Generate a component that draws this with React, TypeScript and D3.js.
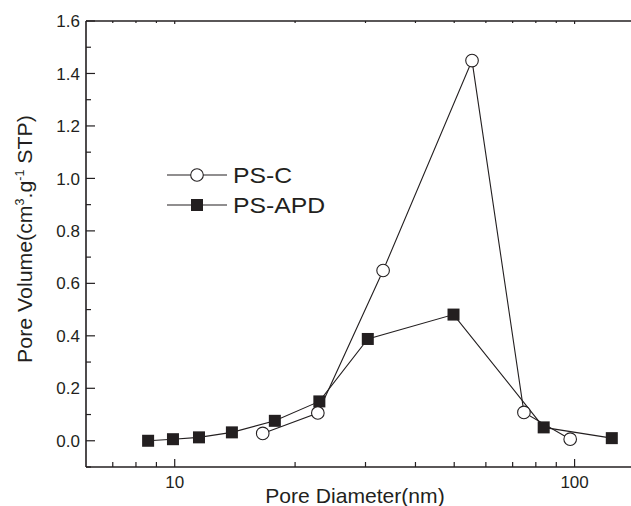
import React from "react";
import * as d3 from "d3";

const psCDiameter = [16.6, 22.8, 33.2, 55.4, 74.7, 97.5];
const psCVolume = [0.028, 0.106, 0.649, 1.449, 0.108, 0.006];
const psAPDDiameter = [8.58, 9.9, 11.5, 13.9, 17.8, 23.0, 30.4, 49.8, 83.7, 123.9];
const psAPDVolume = [0.0, 0.006, 0.013, 0.032, 0.076, 0.15, 0.388, 0.481, 0.051, 0.01];
const yTicks = [0.0, 0.2, 0.4, 0.6, 0.8, 1.0, 1.2, 1.4, 1.6];
const yMinorTicks = [-0.1, 0.1, 0.3, 0.5, 0.7, 0.9, 1.1, 1.3, 1.5];
const xTicks = [10, 100];
const xMinorTicks = [7, 8, 9, 20, 30, 40, 50, 60, 70, 80, 90];
const seriesNames = ["PS-C", "PS-APD"];

const W = 631;
const H = 506;
const left = 86;
const top = 21;
const bottom = 467;

export default function App() {
  const x = d3.scaleLog().domain([6, 150]).range([left, 645]);
  const y = d3.scaleLinear().domain([-0.1, 1.6]).range([bottom, top]);
  const line = d3
    .line<[number, number]>()
    .x((d) => x(d[0]))
    .y((d) => y(d[1]));
  const psC: [number, number][] = psCDiameter.map((d, i) => [d, psCVolume[i]]);
  const psA: [number, number][] = psAPDDiameter.map((d, i) => [d, psAPDVolume[i]]);
  const axisColor = "#231f20";
  const font = "'Liberation Sans', Arial, Helvetica, sans-serif";
  const fmt = d3.format(".1f");
  const sq = 12;

  return (
    <svg
      width={W}
      height={H}
      style={{ position: "absolute", left: 0, top: 0, background: "#fff" }}
      fontFamily={font}
    >
      <rect x={0} y={0} width={W} height={H} fill="#fff" />
      {/* axes lines */}
      <line x1={left} x2={W + 5} y1={top} y2={top} stroke={axisColor} strokeWidth={1.6} />
      <line x1={left} x2={W + 5} y1={bottom} y2={bottom} stroke={axisColor} strokeWidth={1.6} />
      <line x1={left} x2={left} y1={top} y2={bottom} stroke={axisColor} strokeWidth={1.6} />

      {/* y ticks */}
      {yTicks.map((t) => (
        <g key={"yt" + t}>
          <line x1={left} x2={left + 9} y1={y(t)} y2={y(t)} stroke={axisColor} strokeWidth={1.2} />
          <text x={80} y={y(t)} dy="0.36em" textAnchor="end" fontSize={17} fill="#231f20">
            {fmt(t)}
          </text>
        </g>
      ))}
      {yMinorTicks.map((t) => (
        <line key={"ym" + t} x1={left} x2={left + 5} y1={y(t)} y2={y(t)} stroke={axisColor} strokeWidth={1.2} />
      ))}

      {/* x ticks */}
      {xTicks.map((t) => (
        <g key={"xt" + t}>
          <line x1={x(t)} x2={x(t)} y1={bottom} y2={bottom - 8} stroke={axisColor} strokeWidth={1.2} />
          <line x1={x(t)} x2={x(t)} y1={top} y2={top + 3} stroke={axisColor} strokeWidth={1.2} />
          <text x={x(t)} y={488} textAnchor="middle" fontSize={17} fill="#231f20">
            {t}
          </text>
        </g>
      ))}
      {xMinorTicks.map((t) => (
        <g key={"xm" + t}>
          <line x1={x(t)} x2={x(t)} y1={bottom} y2={bottom - 5} stroke={axisColor} strokeWidth={1.2} />
          <line x1={x(t)} x2={x(t)} y1={top} y2={top + 2} stroke={axisColor} strokeWidth={1.2} />
        </g>
      ))}

      {/* axis titles */}
      <text x={355} y={503} textAnchor="middle" fontSize={20.5} fill="#231f20" transform="translate(355,0) scale(1.03,1) translate(-355,0)">
        Pore Diameter(nm)
      </text>
      <text
        transform={`translate(32, 239) rotate(-90) scale(1.04,1)`}
        textAnchor="middle"
        fontSize={20.5}
        fill="#231f20"
      >
        Pore Volume(cm
        <tspan dy={-8} fontSize={12}>3</tspan>
        <tspan dy={8}>.g</tspan>
        <tspan dy={-8} fontSize={12}>-1</tspan>
        <tspan dy={8}> STP)</tspan>
      </text>

      {/* series lines */}
      <path d={line(psC) || ""} fill="none" stroke="#231f20" strokeWidth={1.1} />
      <path d={line(psA) || ""} fill="none" stroke="#231f20" strokeWidth={1.1} />

      {/* markers */}
      {psA.map((d, i) => (
        <rect
          key={"a" + i}
          x={x(d[0]) - sq / 2}
          y={y(d[1]) - sq / 2}
          width={sq}
          height={sq}
          fill="#231f20"
        />
      ))}
      {psC.map((d, i) => (
        <circle key={"c" + i} cx={x(d[0])} cy={y(d[1])} r={6.3} fill="#fff" stroke="#231f20" strokeWidth={1.1} />
      ))}

      {/* legend */}
      <g>
        <line x1={167} x2={227} y1={175} y2={175} stroke="#231f20" strokeWidth={1.1} />
        <circle cx={197} cy={175} r={6.3} fill="#fff" stroke="#231f20" strokeWidth={1.1} />
        <text transform="translate(233,182.5) scale(1.1,1)" fontSize={22.5} fill="#231f20">
          {seriesNames[0]}
        </text>
        <line x1={167} x2={227} y1={205} y2={205} stroke="#231f20" strokeWidth={1.1} />
        <rect x={197 - sq / 2} y={205 - sq / 2} width={sq} height={sq} fill="#231f20" />
        <text transform="translate(233,213) scale(1.1,1)" fontSize={22.5} fill="#231f20">
          {seriesNames[1]}
        </text>
      </g>
    </svg>
  );
}
